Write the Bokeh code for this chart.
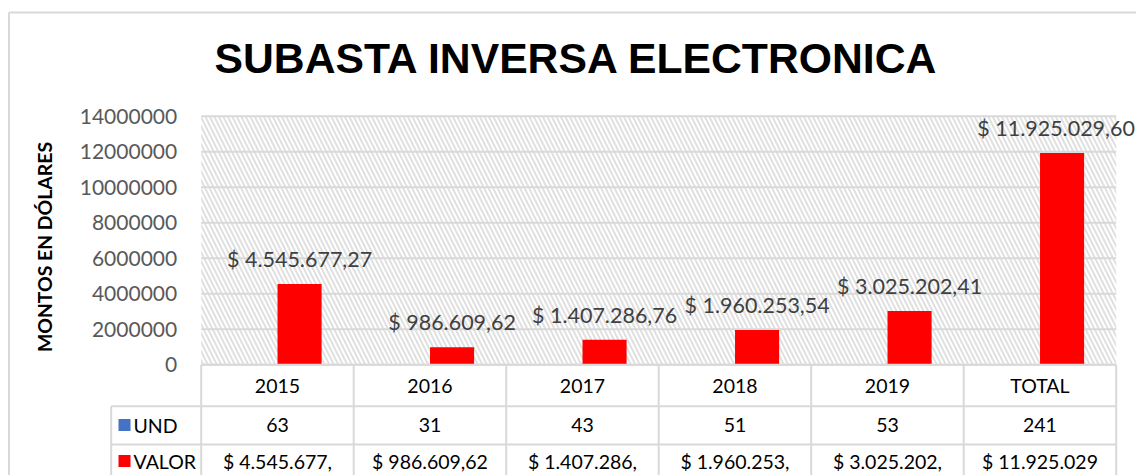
import numpy as np
from bokeh.plotting import figure
from bokeh.models import Range1d, LinearAxis, FixedTicker, BasicTickFormatter, Label, Grid
from bokeh.core.properties import value
from bokeh.embed import file_html
from bokeh.resources import INLINE

# ---------------- data ----------------
title_text = "SUBASTA INVERSA ELECTRONICA"
y_axis_title = "MONTOS EN DÓLARES"
categories = ["2015", "2016", "2017", "2018", "2019", "TOTAL"]
series_names = ["UND", "VALOR"]
und_values = [63, 31, 43, 51, 53, 241]
valor_values = [4545677.27, 986609.62, 1407286.76, 1960253.54, 3025202.41, 11925029.60]
valor_labels = ["$ 4.545.677,27", "$ 986.609,62", "$ 1.407.286,76",
                "$ 1.960.253,54", "$ 3.025.202,41", "$ 11.925.029,60"]
valor_table_text = ["$ 4.545.677,", "$ 986.609,62", "$ 1.407.286,",
                    "$ 1.960.253,", "$ 3.025.202,", "$ 11.925.029"]
y_ticks = [0, 2000000, 4000000, 6000000, 8000000, 10000000, 12000000, 14000000]

# ---------------- layout (canvas pixels) ----------------
W, H = 1136, 475
PL, PR, PT, PB = 200.7, 1115.7, 115.7, 364.3
ROW1_BOT, ROW2_BOT = 405.7, 444.0
TABLE_LEFT = 110.7
ROW_CENTERS = [424.5, 460.5]
series_colors = ["#4472C4", "#FF0000"]
GRID = "#d9d9d9"
CAL = "Lato"
TABLE_FS = "19.5px"

ncat = len(categories)
ymax = max(y_ticks)
xu = (PR - PL) / ncat
yu = (PB - PT) / ymax


def dx(px):
    return (px - PL) / xu


def dy(py):
    return (PB - py) / yu


centers = np.arange(ncat) + 0.5
bar_w = 0.289
off = 0.145

p = figure(width=W, height=H, output_backend="svg", toolbar_location=None,
           x_range=Range1d(dx(0), dx(W)), y_range=Range1d(dy(H), dy(0)),
           x_axis_location=None, y_axis_location=None, min_border=0,
           outline_line_color=None, background_fill_color="white",
           border_fill_color="white")
for r in list(p.center):
    if isinstance(r, Grid):
        r.visible = False

# hatched plot area
p.quad(left=[0], right=[ncat], bottom=[0], top=[ymax], fill_color="white",
       line_color=None, hatch_pattern="left_diagonal_line", hatch_color="#e0e0e0",
       hatch_weight=2, hatch_scale=9)

# gridlines
p.segment(x0=[0] * len(y_ticks), x1=[ncat] * len(y_ticks), y0=y_ticks, y1=y_ticks,
          line_color=GRID, line_width=2)

# bars
p.vbar(x=centers - off, top=und_values, width=bar_w, fill_color=series_colors[0], line_color=None)
p.vbar(x=centers + off, top=valor_values, width=bar_w, fill_color=series_colors[1], line_color=None)

# data labels
label_dx = [0, 0, 0, 0, 0, -6]
p.text(x=centers + off, y=valor_values, text=valor_labels, x_offset=label_dx, y_offset=-25,
       text_align="center", text_baseline="middle", text_font=value(CAL),
       text_font_size="21.5px", text_color="#404040")

# data table lines
tl = dx(TABLE_LEFT)
p.segment(x0=[0, tl, tl], x1=[ncat, ncat, ncat], y0=[0, dy(ROW1_BOT), dy(ROW2_BOT)],
          y1=[0, dy(ROW1_BOT), dy(ROW2_BOT)], line_color=GRID, line_width=2)
vx = list(range(ncat + 1))
p.segment(x0=vx, x1=vx, y0=[0] * len(vx), y1=[dy(H)] * len(vx), line_color=GRID, line_width=2)
p.segment(x0=[tl], x1=[tl], y0=[dy(ROW1_BOT)], y1=[dy(H)], line_color=GRID, line_width=2)

# table rows
p.text(x=centers, y=[dy(ROW_CENTERS[0])] * ncat, text=[str(v) for v in und_values],
       text_align="center", text_baseline="middle", text_font=value(CAL),
       text_font_size=TABLE_FS, text_color="black")
p.text(x=centers, y=[dy(ROW_CENTERS[1])] * ncat, text=valor_table_text,
       text_align="center", text_baseline="middle", text_font=value(CAL),
       text_font_size=TABLE_FS, text_color="black")

# legend keys in table
p.scatter(x=[dx(124)] * 2, y=[dy(c) for c in ROW_CENTERS], marker="square", size=12,
          fill_color=series_colors, line_color=None)
p.text(x=[dx(133)] * 2, y=[dy(c) for c in ROW_CENTERS], text=series_names,
       text_align="left", text_baseline="middle", text_font=value(CAL),
       text_font_size=TABLE_FS, text_color="black")

# outer chart border (left and top)
p.segment(x0=[dx(8.5), dx(8.5)], x1=[dx(W), dx(8.5)], y0=[dy(12), dy(12)], y1=[dy(12), dy(H)],
          line_color=GRID, line_width=2)

# axes
yaxis = LinearAxis(fixed_location=0, ticker=FixedTicker(ticks=y_ticks),
                   formatter=BasicTickFormatter(use_scientific=False),
                   axis_label=y_axis_title, bounds=(dy(H), dy(18)))
yaxis.axis_line_color = None
yaxis.major_tick_line_color = None
yaxis.minor_tick_line_color = None
yaxis.major_label_standoff = 18
yaxis.major_label_text_font = CAL
yaxis.major_label_text_font_size = "21px"
yaxis.major_label_text_color = "#595959"
yaxis.axis_label_text_font = CAL
yaxis.axis_label_text_font_style = "bold"
yaxis.axis_label_text_font_size = "19.4px"
yaxis.axis_label_text_color = "black"
yaxis.axis_label_standoff = 21
p.add_layout(yaxis, "left")

xaxis = LinearAxis(fixed_location=0, ticker=FixedTicker(ticks=list(centers)),
                   major_label_overrides={float(c): cat for c, cat in zip(centers, categories)})
xaxis.axis_line_color = None
xaxis.major_tick_line_color = None
xaxis.minor_tick_line_color = None
xaxis.major_label_standoff = 3
xaxis.major_label_text_font = CAL
xaxis.major_label_text_font_size = TABLE_FS
xaxis.major_label_text_color = "black"
p.add_layout(xaxis, "below")

p.add_layout(Label(x=dx(576.5), y=dy(57), text=title_text, text_font="Liberation Sans",
                   text_font_style="bold", text_font_size="42.7px", text_align="center",
                   text_baseline="middle", text_color="black"))

open("out.html", "w").write(file_html(p, INLINE))
